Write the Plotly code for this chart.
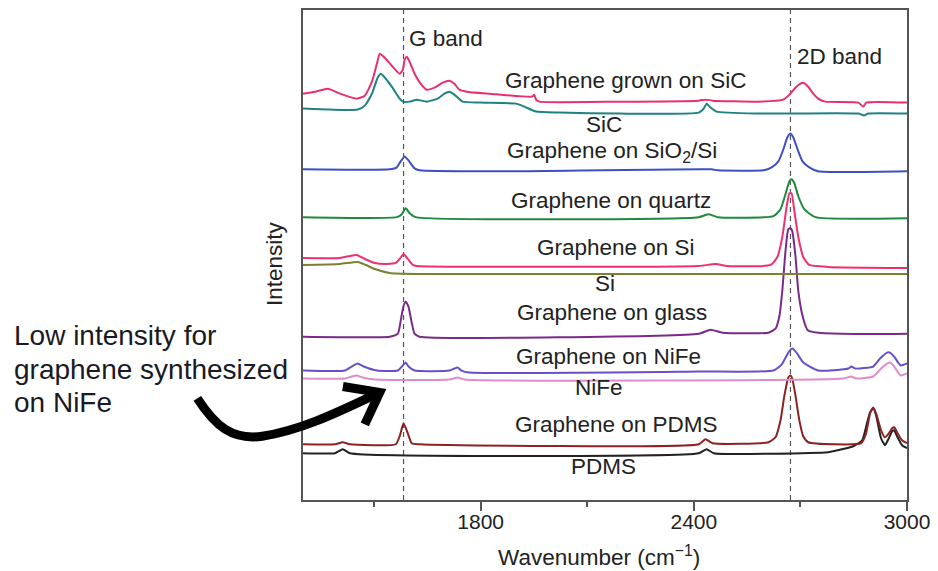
import plotly.graph_objects as go

# ---------------- data (wavenumber in cm^-1, intensity in offset a.u.) ----------------
g_band = 1583
d_band = 2672

sic_gr_x = [1300,1334,1370,1404,1451,1474,1494,1508,1516,1530,1550,1572,1581,1586,1592,1600,1614,1631,1648,1670,1693,1712,1726,1740,1760,1825,1945,1951,1956,1965,2189,2414,2433,2453,2582,2652,2672,2686,2700,2708,2722,2736,2750,2770,2863,2877,2885,3000]
sic_gr_y = [408,410,413,408,403,406,420,438,448,444,436,428,432,442,445,440,428,418,412,414,419,421,418,412,410,408,405,407,402,400,400,401,402,401,400,402,408,414,418,419,415,408,403,400,399,395,399,399]

sic_x = [1300,1376,1454,1474,1494,1510,1519,1533,1552,1572,1581,1600,1620,1634,1648,1679,1698,1712,1726,1749,1797,1900,1923,1956,2021,2189,2414,2428,2436,2447,2464,2582,2863,2879,2891,3000]
sic_y = [393,392,392,396,408,424,428,423,414,403,400,400,402,401,400,403,408,410,407,400,399,398,395,390,389,388,389,393,398,394,390,388,388,386,388,388]

sio2_x = [1300,1544,1564,1575,1586,1597,1614,1628,1853,2450,2467,2596,2619,2638,2652,2663,2672,2680,2692,2706,2725,2750,3000]
sio2_y = [332,332,334,340,345,341,333,331,330,332,331,331,334,340,352,364,368,364,352,340,334,330,330]

quartz_x = [1300,1564,1578,1589,1600,1617,2414,2442,2467,2624,2644,2658,2669,2675,2683,2694,2711,2742,3000]
quartz_y = [284,284,287,293,288,284,284,287,284,285,292,307,320,322,318,305,292,284,283]

si_gr_x = [1300,1404,1432,1451,1474,1502,1536,1561,1572,1583,1595,1609,1620,2414,2461,2495,2616,2635,2649,2661,2669,2675,2683,2694,2708,2725,2778,3000]
si_gr_y = [243,243,245,246,242,238,237,238,242,247,242,236,235,235,237,235,236,244,264,294,308,308,290,264,244,236,234,233]

si_x = [1300,1404,1454,1477,1502,1544,1628,3000]
si_y = [236,237,239,236,232,228,227,227]

glass_x = [1300,1544,1567,1575,1583,1589,1597,1606,1614,1628,2414,2447,2481,2610,2630,2641,2649,2658,2666,2672,2677,2686,2694,2706,2722,3000]
glass_y = [164,164,167,180,195,199,194,178,167,164,167,171,168,168,172,185,210,250,272,273,270,245,210,185,170,167]

nife_gr_x = [1300,1418,1437,1454,1471,1508,1567,1581,1589,1597,1614,1712,1726,1735,1746,1768,2414,2624,2647,2666,2677,2689,2708,2750,2835,2843,2854,2905,2924,2944,2952,2964,2975,2983,2992,3000]
nife_gr_y = [130,130,134,137,134,130,130,135,138,134,130,130,132,133,130,128,129,130,136,148,152,148,138,130,132,134,132,134,142,148,148,144,138,135,136,137]

nife_x = [1300,1418,1437,1451,1468,1502,1712,1735,1754,2820,2843,2857,2905,2927,2944,2952,2964,2975,2983,3000]
nife_y = [122,122,124,125,123,121,121,123,121,122,124,122,124,132,137,138,134,128,125,127]

pdms_gr_x = [1300,1390,1412,1432,1561,1572,1583,1595,1606,1628,2414,2433,2453,2610,2630,2644,2655,2666,2672,2677,2686,2697,2708,2722,2871,2885,2896,2905,2913,2927,2938,2949,2958,2964,2972,2986,3000]
pdms_gr_y = [56,56,58,56,56,64,77,67,57,56,56,61,57,58,63,80,105,123,125,122,105,80,64,58,57,67,87,93,87,70,63,67,72,73,68,60,57]

pdms_x = [1300,1390,1412,1432,2414,2436,2456,2778,2806,2849,2874,2888,2896,2905,2913,2927,2938,2949,2958,2964,2972,2986,3000]
pdms_y = [47,47,51,47,47,51,47,48,50,54,60,78,88,92,85,62,55,62,69,70,64,55,52]

series_names = ["Graphene grown on SiC", "SiC", "Graphene on SiO<sub>2</sub>/Si", "Graphene on quartz",
                "Graphene on Si", "Si", "Graphene on glass", "Graphene on NiFe", "NiFe",
                "Graphene on PDMS", "PDMS"]
series_colors = ["#e8306e", "#1e8282", "#3c50c4", "#1e8a3c", "#f0306e", "#7a8232",
                 "#7a2a8a", "#6450c8", "#e08ccc", "#8c2222", "#222222"]
series_x = [sic_gr_x, sic_x, sio2_x, quartz_x, si_gr_x, si_x, glass_x, nife_gr_x, nife_x, pdms_gr_x, pdms_x]
series_y = [sic_gr_y, sic_y, sio2_y, quartz_y, si_gr_y, si_y, glass_y, nife_gr_y, nife_y, pdms_gr_y, pdms_y]

# label positions (wavenumber, intensity)
label_x = [2209, 2147, 2170, 2167, 2181, 2150, 2170, 2161, 2133, 2181, 2147]
label_y = [421, 377, 349, 301, 254, 217, 188, 144, 113, 76, 34]

major_ticks = [1800, 2400, 3000]
minor_ticks = [1500, 2100, 2700]

note_lines = ["Low intensity for", "graphene synthesized", "on NiFe"]

# ---------------- figure ----------------
W, H = 938, 571
L, R, T, B = 303, 29, 8, 71
FONT = "Liberation Sans, Arial, sans-serif"
TXT = "#222222"
FS = 22.5

fig = go.Figure()
draw_order = list(range(len(series_names)))[::-1]
for i in draw_order:
    fig.add_trace(go.Scatter(x=series_x[i], y=series_y[i], mode="lines",
                             line=dict(color=series_colors[i], width=2, shape="spline", smoothing=0.5),
                             name=series_names[i], showlegend=False, hoverinfo="skip"))

for xb in [g_band, d_band]:
    fig.add_shape(type="line", xref="x", yref="paper", x0=xb, x1=xb, y0=0, y1=1,
                  line=dict(color="#555555", width=1.2, dash="5px,4px"), layer="below")

for name, lx, ly in zip(series_names, label_x, label_y):
    fig.add_annotation(x=lx, y=ly, xref="x", yref="y", text=name, showarrow=False,
                       font=dict(family=FONT, size=FS, color=TXT), xanchor="center", yanchor="middle")

fig.add_annotation(x=1592, y=463, xref="x", yref="y", text="G band", showarrow=False,
                   font=dict(family=FONT, size=FS, color=TXT), xanchor="left", yanchor="middle")
fig.add_annotation(x=2686, y=445, xref="x", yref="y", text="2D band", showarrow=False,
                   font=dict(family=FONT, size=FS, color=TXT), xanchor="left", yanchor="middle")

PW, PH = W - L - R, H - T - B
def px(x):
    return (x - L) / PW
def py(y):
    return (H - B - y) / PH

# axis titles
fig.add_annotation(x=px(600), y=py(556), xref="paper", yref="paper",
                   text="Wavenumber (cm<sup>−1</sup>)", showarrow=False,
                   font=dict(family=FONT, size=FS, color=TXT), xanchor="center", yanchor="middle")
fig.add_annotation(x=px(275), y=py(263), xref="paper", yref="paper", text="Intensity",
                   showarrow=False, textangle=-90,
                   font=dict(family=FONT, size=FS, color=TXT), xanchor="center", yanchor="middle")

# side note, one annotation per line
for k, line in enumerate(note_lines):
    fig.add_annotation(x=px(11), y=py(335 + 33.5 * k), xref="paper", yref="paper",
                       text=line, showarrow=False, align="left",
                       font=dict(family=FONT, size=28, color="#1a1a22"),
                       xanchor="left", yanchor="middle")

# curved arrow (decoration)
def pt(a, b):
    return f"{px(a):.5f},{py(b):.5f}"
arrow_path = ("M " + pt(197, 398) + " C " + pt(215, 426) + " " + pt(232, 440) + " " + pt(262, 436)
              + " C " + pt(302, 430) + " " + pt(342, 410) + " " + pt(378, 393))
head_path = "M " + pt(343, 386) + " L " + pt(380, 392) + " L " + pt(365, 424)
fig.add_shape(type="path", xref="paper", yref="paper", path=arrow_path,
              line=dict(color="#000000", width=9))
fig.add_shape(type="path", xref="paper", yref="paper", path=head_path,
              line=dict(color="#000000", width=9))

fig.update_layout(
    width=W, height=H, margin=dict(l=L, r=R, t=T, b=B),
    paper_bgcolor="white", plot_bgcolor="white",
    font=dict(family=FONT, size=FS, color=TXT),
    xaxis=dict(range=[1300, 3000], tickvals=major_ticks, ticktext=[str(v) for v in major_ticks],
               ticks="outside", ticklen=9, tickwidth=1.5, tickcolor="#555555",
               ticklabelstandoff=-7,
               minor=dict(tickvals=minor_ticks, ticks="outside", ticklen=5, tickwidth=1.5,
                          tickcolor="#555555", showgrid=False),
               showline=True, linecolor="#555555", linewidth=2, mirror=True,
               showgrid=False, zeroline=False, tickfont=dict(family=FONT, size=21, color=TXT)),
    yaxis=dict(range=[0, PH], showticklabels=False, ticks="", showline=True,
               linecolor="#555555", linewidth=2, mirror=True, showgrid=False, zeroline=False),
)

fig.write_html("out.html", config={"displayModeBar": False},
               post_script="document.body.style.margin='0';document.body.style.overflow='hidden';")
